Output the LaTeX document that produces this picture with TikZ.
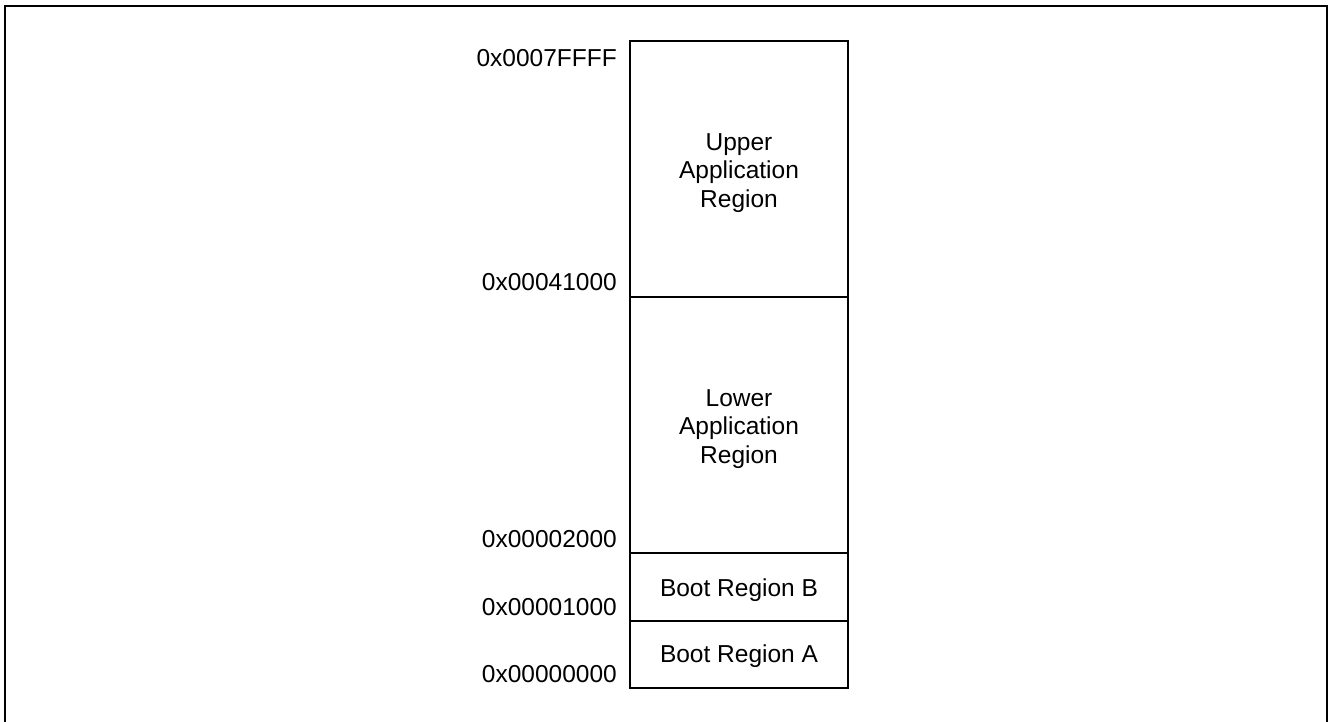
\documentclass[tikz,border=0pt]{standalone}
\usepackage{fontspec}
\setmainfont{Liberation Sans}
\begin{document}
\begin{tikzpicture}[x=1pt,y=-1pt,
  region/.style={draw, line width=1.3pt, minimum width=218pt, inner sep=0pt},
  regiontext/.style={inner sep=0pt, align=center, font=\fontsize{24.5}{28.5}\selectfont},
  addr/.style={anchor=base east, inner sep=0pt, font=\fontsize{24.5}{28.5}\selectfont}]
\useasboundingbox (0,0) rectangle (1328,722);
\clip (0,0) rectangle (1328,722);
\draw[line width=2.4pt] (5,6) rectangle (1327,760);
\node[region, minimum height=256pt] (upper) at (739,169) {};
\node[region, minimum height=256pt] (lower) at (739,425) {};
\node[region, minimum height=68pt] (bootb) at (739,587) {};
\node[region, minimum height=67pt] (boota) at (739,654.5) {};
\node[regiontext] (uppert) at ([yshift=-4pt]upper.center) {Upper\\Application\\Region};
\node[regiontext] (lowert) at ([yshift=-4pt]lower.center) {Lower\\Application\\Region};
\node[regiontext] (bootbt) at ([yshift=-3.5pt]bootb.center) {Boot Region B};
\node[regiontext] (bootat) at ([yshift=-2pt]boota.center) {Boot Region A};
\node[addr] (a1) at (617,67) {0x0007FFFF};
\node[addr] (a2) at (617,290) {0x00041000};
\node[addr] (a3) at (617,547) {0x00002000};
\node[addr] (a4) at (617,615) {0x00001000};
\node[addr] (a5) at (617,682) {0x00000000};
\end{tikzpicture}
\end{document}
